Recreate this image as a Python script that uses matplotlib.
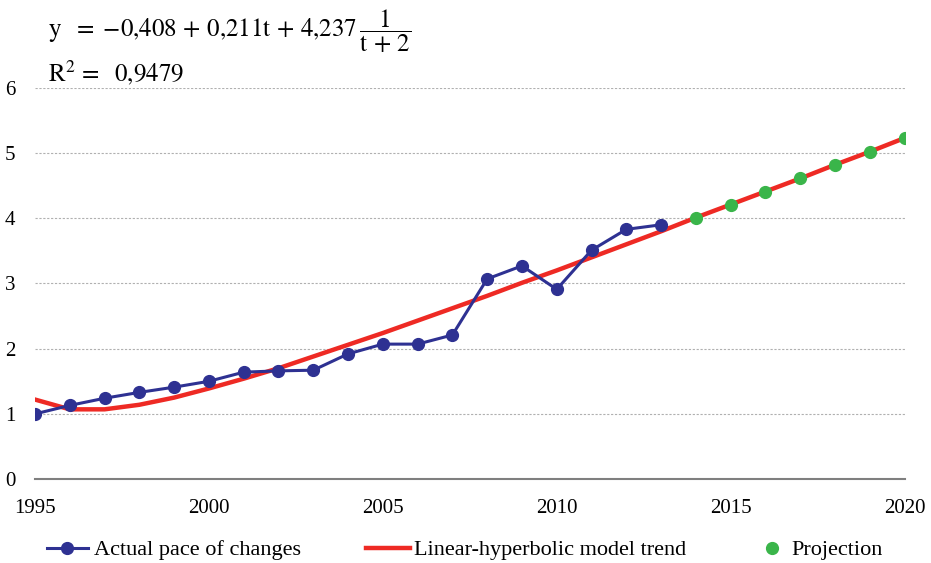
import numpy as np
import matplotlib.pyplot as plt

plt.rcParams['font.family'] = ['Liberation Serif', 'DejaVu Serif']
plt.rcParams['mathtext.fontset'] = 'stix'

years_actual = list(range(1995, 2014))
actual = [1.00, 1.13, 1.24, 1.33, 1.41, 1.50, 1.64, 1.66, 1.67, 1.92,
          2.07, 2.07, 2.21, 3.07, 3.27, 2.91, 3.51, 3.83, 3.90]

years_trend = list(range(1995, 2021))
trend = [1.22, 1.07, 1.07, 1.14, 1.25, 1.39, 1.54, 1.70, 1.88, 2.06,
         2.24, 2.43, 2.62, 2.81, 3.01, 3.20, 3.40, 3.60, 3.80, 4.01,
         4.21, 4.41, 4.61, 4.82, 5.02, 5.23]

years_proj = list(range(2014, 2021))
projection = [4.01, 4.21, 4.41, 4.61, 4.82, 5.02, 5.23]

fig = plt.figure(figsize=(9.31, 5.63), dpi=100)
ax = fig.add_axes([0.0376, 0.149, 0.934, 0.695])

l1, = ax.plot(years_actual, actual, marker='o', linestyle='-', color='#2E3192',
              lw=2.2, markersize=8.5, label='Actual pace of changes', zorder=3)
l2, = ax.plot(years_trend, trend, linestyle='-', color='#EE2A24', lw=3.2,
              label='Linear-hyperbolic model trend', zorder=2)
l3, = ax.plot(years_proj, projection, marker='o', linestyle='none', color='#3AB54A',
              markersize=8.5, label='Projection', zorder=4)

ax.set_xlim(1995, 2020)
ax.set_ylim(0, 6)
ax.set_xticks([1995, 2000, 2005, 2010, 2015, 2020])
ax.set_yticks([0, 1, 2, 3, 4, 5, 6])
ax.tick_params(length=0, labelsize=15)
ax.tick_params(axis='x', pad=14)
ax.tick_params(axis='y', pad=14)
ax.grid(axis='y', linestyle=(0, (2, 1.5)), color='#B0B0B0', lw=0.8)
for s in ['left', 'right', 'top']:
    ax.spines[s].set_visible(False)
ax.spines['bottom'].set_color('#7F7F7F')
ax.spines['bottom'].set_linewidth(1.5)
ax.set_axisbelow(True)
ax.set_clip_on(False)

fig.text(0.0515, 0.945,
         r'$\mathrm{y\ \ =\ {-0{,}408} \,+\, 0{,}211t \,+\, 4{,}237}\,\dfrac{\mathrm{1}}{\mathrm{t\,+\,2}}$',
         fontsize=18, va='center')
fig.text(0.0515, 0.872, r'$\mathrm{R^2 \,=\ \ 0{,}9479}$', fontsize=18, va='center')

# three legend entries placed separately, like the original
for h, x0, hl, pad in [(l1, 0.050, 1.85, 0.3), (l2, 0.393, 2.0, 0.15), (l3, 0.817, 1.0, 0.4)]:
    fig.legend(handles=[h], loc='center left', bbox_to_anchor=(x0, 0.023),
               frameon=False, fontsize=16, handlelength=hl, handletextpad=pad,
               borderpad=0, borderaxespad=0)

fig.savefig('out.png', dpi=100)
